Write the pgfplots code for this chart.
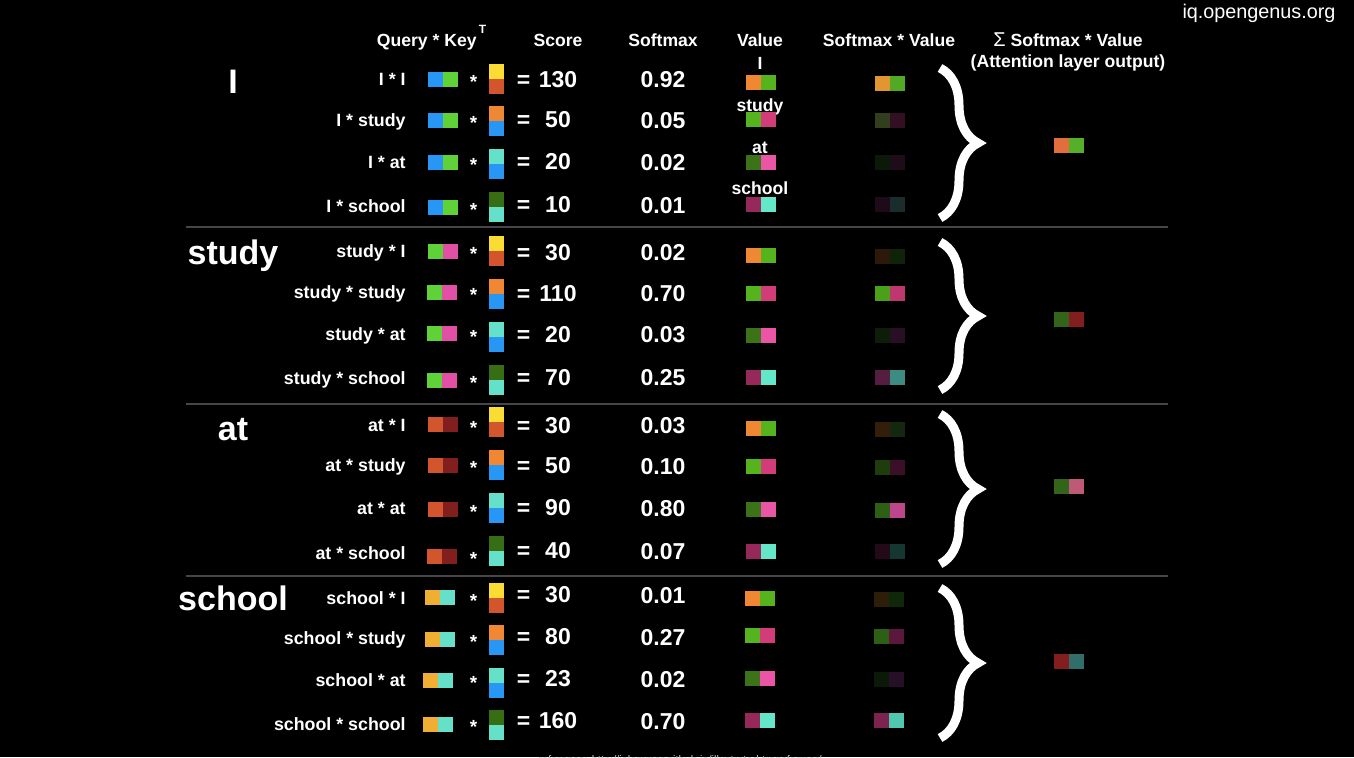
\documentclass[border=0pt]{standalone}
\usepackage{pgfplots}
\pgfplotsset{compat=1.18}
\usepackage{pgfplotstable}
\usepackage{fontspec}
\setmainfont{Liberation Sans}
\usetikzlibrary{decorations.pathreplacing}

% colored squares: x y (pixel coordinates, y downwards) and RGB colour
\pgfplotstableread{
x y c
435.5 79 40,150,245
450.5 79 95,210,55
435.5 120 40,150,245
450.5 120 95,210,55
435.5 162 40,150,245
450.5 162 95,210,55
435.5 207 40,150,245
450.5 207 95,210,55
435.5 251 95,210,55
450.5 251 225,80,165
434.5 292 95,210,55
449.5 292 225,80,165
434.5 333.5 95,210,55
449.5 333.5 225,80,165
434.5 380 95,210,55
449.5 380 225,80,165
435.5 424.5 210,85,45
450.5 424.5 130,30,30
435.5 465 210,85,45
450.5 465 130,30,30
435.5 509 210,85,45
450.5 509 130,30,30
434 556 210,85,45
449 556 130,30,30
432 597.5 240,175,50
447 597.5 100,225,200
432 639 240,175,50
447 639 100,225,200
430 680 240,175,50
445 680 100,225,200
430 724 240,175,50
445 724 100,225,200
}\querysq

\pgfplotstableread{
x y c
496.5 71 250,220,50
496.5 86 210,85,45
496.5 113.5 240,135,50
496.5 128.5 40,150,245
496.5 156.5 100,225,200
496.5 171.5 40,150,245
496.5 199 55,110,20
496.5 214 100,225,200
496.5 243.5 250,220,50
496.5 258.5 210,85,45
496.5 286.5 240,135,50
496.5 301.5 40,150,245
496.5 329.5 100,225,200
496.5 344.5 40,150,245
496.5 372 55,110,20
496.5 387 100,225,200
496.5 414.5 250,220,50
496.5 429.5 210,85,45
496.5 457.5 240,135,50
496.5 472.5 40,150,245
496.5 500.5 100,225,200
496.5 515.5 40,150,245
496.5 543 55,110,20
496.5 558 100,225,200
496.5 590 250,220,50
496.5 605 210,85,45
496.5 632 240,135,50
496.5 647 40,150,245
496.5 675 100,225,200
496.5 690 40,150,245
496.5 717.5 55,110,20
496.5 732.5 100,225,200
}\keysq

\pgfplotstableread{
x y c
753 82 240,135,50
768 82 85,180,30
753 119 85,180,30
768 119 210,60,120
753 162 60,115,25
768 162 235,85,165
753 204 150,40,90
768 204 100,230,200
753 255 240,135,50
768 255 85,180,30
753 293 85,180,30
768 293 210,60,120
753 335 60,115,25
768 335 235,85,165
753 377 150,40,90
768 377 100,230,200
753 428 240,135,50
768 428 85,180,30
753 466 85,180,30
768 466 210,60,120
753 509 60,115,25
768 509 235,85,165
753 551 150,40,90
768 551 100,230,200
752 598 240,135,50
767 598 85,180,30
752 635 85,180,30
767 635 210,60,120
752 678 60,115,25
767 678 235,85,165
752 720 150,40,90
767 720 100,230,200
}\valuesq

\pgfplotstableread{
x y c
882 83 225,150,50
897 83 80,170,35
882 120 50,62,30
897 120 50,15,35
882 162 10,25,8
897 162 30,12,25
882 204 30,10,25
897 204 25,45,45
882 256 45,25,10
897 256 15,35,10
882 293 75,160,25
897 293 190,55,110
882 335 12,30,8
897 335 40,15,35
882 377 85,30,65
897 377 60,140,130
882 429 50,30,10
897 429 20,40,15
882 467 30,60,12
897 467 60,15,40
882 510 45,95,20
897 510 190,70,140
882 551 35,10,25
897 551 20,55,50
881 599 45,30,10
896 599 15,40,10
881 636 45,95,20
896 636 90,25,60
881 679 10,25,8
896 679 40,15,40
881 720 125,35,80
896 720 80,200,175
}\svsq

\pgfplotstableread{
x y c
1061 145 225,110,60
1076 145 85,175,40
1061 319 50,100,25
1076 319 130,30,30
1061 486 50,100,25
1076 486 190,90,120
1061 661 130,30,30
1076 661 50,110,105
}\outsq

\pgfplotsset{
  sq/.style={scatter, only marks, mark=square*, mark size=3.5pt,
    point meta=explicit symbolic,
    scatter/@pre marker code/.code={%
      \edef\tmpc{\noexpand\definecolor{mc}{RGB}{\pgfplotspointmeta}}\tmpc
      \scope[fill=mc,draw=mc,line width=0pt]},
    scatter/@post marker code/.code={\endscope}},
}
\tikzset{
  w/.style={text=white, inner sep=0pt},
  hd/.style={w, anchor=base, font=\fontsize{8.8pt}{10pt}\selectfont\bfseries},
}

\newcommand\rowlab[2]{\node[w,anchor=base east,font=\fontsize{8.9pt}{10pt}\selectfont\bfseries] at (axis cs:406,#1+6.5) {#2};}
\newcommand\rowstar[1]{\node[w,anchor=base,font=\fontsize{9.5pt}{10pt}\selectfont\bfseries] at (axis cs:473.5,#1+9.5) {*};}
\newcommand\score[2]{\node[w,anchor=base,font=\fontsize{11.5pt}{12pt}\selectfont\bfseries] at (axis cs:523.5,#1+8) {=};
  \node[w,anchor=base,font=\fontsize{11.5pt}{12pt}\selectfont\bfseries] at (axis cs:558,#1+8) {#2};}
\newcommand\soft[2]{\node[w,anchor=base,font=\fontsize{11.5pt}{12pt}\selectfont\bfseries] at (axis cs:663,#1+8.5) {#2};}
\newcommand\bigword[2]{\node[w,anchor=base,font=\fontsize{17pt}{18pt}\selectfont\bfseries] at (axis cs:233,#1) {#2};}

\begin{document}
\begin{tikzpicture}
\fill[black] (0,0) rectangle (677pt,378.5pt);
\begin{axis}[
  at={(0,0)}, anchor=south west,
  scale only axis, width=677pt, height=378.5pt,
  xmin=0, xmax=1354, ymin=0, ymax=757, y dir=reverse,
  hide axis, clip=false,
]
% separator lines
\addplot[draw={rgb,255:red,70;green,70;blue,70}, line width=1pt] coordinates {(186,227) (1168,227)};
\addplot[draw={rgb,255:red,70;green,70;blue,70}, line width=1pt] coordinates {(186,404) (1168,404)};
\addplot[draw={rgb,255:red,70;green,70;blue,70}, line width=1pt] coordinates {(186,576) (1168,576)};

\addplot[sq] table[meta=c] {\querysq};
\addplot[sq] table[meta=c] {\keysq};
\addplot[sq] table[meta=c] {\valuesq};
\addplot[sq] table[meta=c] {\svsq};
\addplot[sq] table[meta=c] {\outsq};

% headers
\node[hd,anchor=base east] at (axis cs:477,46) {Query * Key};
\node[w,anchor=base west,font=\fontsize{6pt}{7pt}\selectfont\bfseries] at (axis cs:478.5,33) {T};
\node[hd] at (axis cs:558,46) {Score};
\node[hd] at (axis cs:663,46) {Softmax};
\node[hd] at (axis cs:760,46) {Value};
\node[hd] at (axis cs:889,46) {Softmax * Value};
\node[hd] at (axis cs:1068,46) {{\mdseries\fontsize{10pt}{10pt}\selectfont Σ} Softmax * Value};
\node[hd] at (axis cs:1068,67) {(Attention layer output)};

% value word labels
\node[hd] at (axis cs:760,69) {I};
\node[hd] at (axis cs:760,111) {study};
\node[hd] at (axis cs:760,153) {at};
\node[hd] at (axis cs:760,194) {school};

% big words
\bigword{93}{I}
\bigword{264}{study}
\bigword{440}{at}
\bigword{610}{school}

% row labels
\rowlab{79}{I * I}
\rowlab{120}{I * study}
\rowlab{162}{I * at}
\rowlab{206}{I * school}
\rowlab{251}{study * I}
\rowlab{292}{study * study}
\rowlab{333.5}{study * at}
\rowlab{378}{study * school}
\rowlab{424.5}{at * I}
\rowlab{465}{at * study}
\rowlab{507.5}{at * at}
\rowlab{553}{at * school}
\rowlab{597.5}{school * I}
\rowlab{638}{school * study}
\rowlab{679.5}{school * at}
\rowlab{724}{school * school}

% stars
\rowstar{79}\rowstar{120}\rowstar{162}\rowstar{207}
\rowstar{251}\rowstar{292}\rowstar{333.5}\rowstar{380}
\rowstar{424.5}\rowstar{465}\rowstar{509}\rowstar{556}
\rowstar{597.5}\rowstar{639}\rowstar{680}\rowstar{724}

% scores
\score{79}{130}\score{119}{50}\score{161}{20}\score{204}{10}
\score{252}{30}\score{293}{110}\score{334}{20}\score{377}{70}
\score{425}{30}\score{465}{50}\score{507}{90}\score{550}{40}
\score{594}{30}\score{636}{80}\score{678}{23}\score{720}{160}

% softmax
\soft{79}{0.92}\soft{120}{0.05}\soft{162}{0.02}\soft{205}{0.01}
\soft{252}{0.02}\soft{293}{0.70}\soft{334}{0.03}\soft{377}{0.25}
\soft{425}{0.03}\soft{466}{0.10}\soft{508}{0.80}\soft{551}{0.07}
\soft{595}{0.01}\soft{637}{0.27}\soft{679}{0.02}\soft{721}{0.70}

% braces
\draw[white, line width=4.5pt, decorate, decoration={brace, amplitude=19pt}] (axis cs:940,68) -- (axis cs:940,218);
\draw[white, line width=4.5pt, decorate, decoration={brace, amplitude=19pt}] (axis cs:940,242) -- (axis cs:940,390);
\draw[white, line width=4.5pt, decorate, decoration={brace, amplitude=19pt}] (axis cs:940,414) -- (axis cs:940,564);
\draw[white, line width=4.5pt, decorate, decoration={brace, amplitude=19pt}] (axis cs:940,588) -- (axis cs:940,738);

% watermark and cut-off reference
\node[w,anchor=base,font=\fontsize{9.9pt}{10pt}\selectfont] at (axis cs:1259,18) {iq.opengenus.org};
\node[anchor=base,inner sep=0pt,font=\fontsize{5.5pt}{6pt}\selectfont, text={rgb,255:red,200;green,200;blue,200}] at (axis cs:680,763) {reference: http://jalammar.github.io/illustrated-transformer/};
\end{axis}
\pgfresetboundingbox
\useasboundingbox (0,0) rectangle (677pt,378.5pt);
\end{tikzpicture}
\end{document}
